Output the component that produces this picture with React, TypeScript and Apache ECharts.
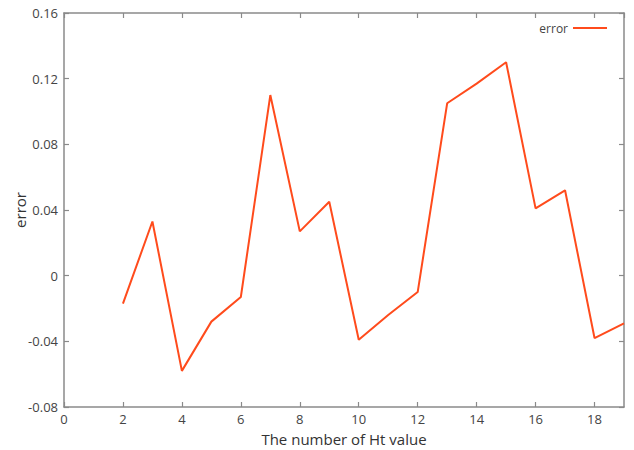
import React, { useEffect, useRef } from "react";
import * as echarts from "echarts";

// Error for each number of Ht values
const htCounts = [2, 3, 4, 5, 6, 7, 8, 9, 10, 11, 12, 13, 14, 15, 16, 17, 18, 19];
const errorValues = [
  -0.017, 0.033, -0.058, -0.028, -0.013, 0.11, 0.027, 0.045, -0.039, -0.024,
  -0.01, 0.105, 0.117, 0.13, 0.041, 0.052, -0.038, -0.029,
];

const FONT = "'Open Sans', 'Noto Sans', sans-serif";
const LINE_COLOR = "#ff4b1c";
const AXIS_COLOR = "#8a8a8a";
const LABEL_COLOR = "#444";

export default function App() {
  const ref = useRef<HTMLDivElement>(null);

  useEffect(() => {
    if (!ref.current) return;
    const chart = echarts.init(ref.current, null, { renderer: "svg" });

    const axisLine = { show: true, onZero: false, lineStyle: { color: AXIS_COLOR, width: 1.5 } };
    const axisTick = { show: true, inside: true, length: 5, lineStyle: { color: AXIS_COLOR, width: 1.2 } };

    chart.setOption({
      animation: false,
      backgroundColor: "#fff",
      textStyle: { fontFamily: FONT },
      grid: {
        left: 64,
        right: 10,
        top: 13,
        bottom: 43,
        containLabel: false,
        outerBoundsMode: "none",
      },
      legend: {
        right: 22,
        top: 17,
        align: "right",
        itemWidth: 34,
        itemHeight: 2,
        icon: "rect",
        textStyle: { color: LABEL_COLOR, fontSize: 12, fontFamily: FONT },
        data: ["error"],
      },
      xAxis: [
        {
          type: "value",
          min: 0,
          max: 19,
          interval: 2,
          name: "The number of Ht value",
          nameLocation: "middle",
          nameGap: 24,
          nameMoveOverlap: false,
          nameTextStyle: { color: "#333", fontSize: 15, fontFamily: FONT },
          axisLine,
          axisTick,
          splitLine: { show: false },
          axisLabel: {
            color: LABEL_COLOR,
            fontSize: 13,
            margin: 5,
            showMaxLabel: false,
            formatter: (v: number) => (v % 2 === 0 ? String(v) : ""),
          },
        },
        {
          type: "value",
          position: "top",
          min: 0,
          max: 19,
          interval: 2,
          axisLine,
          axisTick,
          splitLine: { show: false },
          axisLabel: { show: false },
        },
      ],
      yAxis: [
        {
          type: "value",
          min: -0.08,
          max: 0.16,
          interval: 0.04,
          name: "error",
          nameLocation: "middle",
          nameGap: 37,
          nameMoveOverlap: false,
          nameTextStyle: { color: "#333", fontSize: 15, fontFamily: FONT },
          axisLine,
          axisTick,
          splitLine: { show: false },
          axisLabel: {
            color: LABEL_COLOR,
            fontSize: 13,
            margin: 6,
            formatter: (v: number) => {
              const r = Math.round(v * 100) / 100;
              return r === 0 ? "0" : String(r);
            },
          },
        },
        {
          type: "value",
          position: "right",
          min: -0.08,
          max: 0.16,
          interval: 0.04,
          axisLine,
          axisTick,
          splitLine: { show: false },
          axisLabel: { show: false },
        },
      ],
      series: [
        {
          name: "error",
          type: "line",
          xAxisIndex: 0,
          yAxisIndex: 0,
          data: htCounts.map((x, i) => [x, errorValues[i]]),
          showSymbol: false,
          symbol: "none",
          lineStyle: { color: LINE_COLOR, width: 2 },
          itemStyle: { color: LINE_COLOR },
        },
      ],
    });

    return () => chart.dispose();
  }, []);

  return (
    <div
      ref={ref}
      style={{ position: "fixed", left: 0, top: 0, width: 634, height: 450 }}
    />
  );
}
